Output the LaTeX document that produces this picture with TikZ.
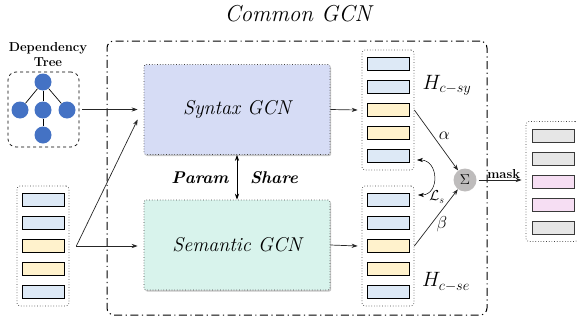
\documentclass[tikz,border=0pt]{standalone}
\usepackage{fontspec}
\usetikzlibrary{arrows.meta,shadows}

\definecolor{synfill}{RGB}{214,220,245}
\definecolor{semfill}{RGB}{216,243,236}
\definecolor{barblue}{RGB}{221,233,246}
\definecolor{baryel}{RGB}{255,242,204}
\definecolor{bargray}{RGB}{230,230,230}
\definecolor{barpink}{RGB}{246,222,243}
\definecolor{treeblue}{RGB}{68,114,196}
\definecolor{sumgray}{RGB}{190,188,188}

\begin{document}
\begin{tikzpicture}[x=1pt,y=-1pt,
	arr/.style={-{Stealth[length=6pt,width=4.2pt]},line width=0.7pt,draw=black!85},
	dblarr/.style={{Stealth[length=6pt,width=4.2pt]}-{Stealth[length=6pt,width=4.2pt]},line width=0.7pt},
	gcnbox/.style={draw=black!75,dotted,line width=0.7pt,rounded corners=2pt,minimum width=186pt,minimum height=90pt,
		drop shadow={opacity=0.45,shadow xshift=1.2pt,shadow yshift=-1.5pt},font=\fontsize{20}{24}\selectfont\itshape},
	vecbox/.style={draw=black!75,dotted,line width=0.7pt,rounded corners=3pt,minimum width=52pt,minimum height=120pt},
	bar/.style={draw=black,line width=0.8pt,minimum width=42pt,minimum height=13pt,inner sep=0pt},
	outbar/.style={bar,draw=gray!45!black},
	treenode/.style={circle,fill=treeblue,minimum size=17pt,inner sep=0pt},
	lbl/.style={font=\fontsize{17}{20}\selectfont},
	hlbl/.style={font=\fontsize{20}{24}\selectfont}
]
	\useasboundingbox (0,0) rectangle (577,324);

	% common frame
	\node[draw=black,line width=1pt,rounded corners=7pt,dash pattern=on 8pt off 3.5pt on 1.2pt off 3.5pt,
		minimum width=380pt,minimum height=274pt] (frame) at (297,178) {};
	\node[font=\fontsize{23}{26}\selectfont\itshape] (title) at (298,14) {Common GCN};

	% dependency tree
	\node[font=\fontsize{13}{15}\selectfont\bfseries,align=center] (deplabel) at (48,55) {Dependency\\Tree};
	\node[draw,dashed,line width=0.7pt,rounded corners=8pt,minimum width=71pt,minimum height=75pt] (tree) at (43.5,109.5) {};
	\node[treenode] (t0) at (43,82) {};
	\node[treenode] (t1) at (20,110) {};
	\node[treenode] (t2) at (43,110) {};
	\node[treenode] (t3) at (67,110) {};
	\node[treenode] (t4) at (43,135) {};
	\draw[line width=0.7pt] (t0) -- (t1);
	\draw[line width=0.7pt] (t0) -- (t2);
	\draw[line width=0.7pt] (t0) -- (t3);
	\draw[line width=0.7pt] (t2) -- (t4);

	% input vectors
	\node[vecbox] (inbox) at (43,246) {};
	\node[bar,fill=barblue] (in1) at (43,200) {};
	\node[bar,fill=barblue] (in2) at (43,223) {};
	\node[bar,fill=baryel] (in3) at (43,246) {};
	\node[bar,fill=baryel] (in4) at (43,269) {};
	\node[bar,fill=barblue] (in5) at (43,292) {};

	% the two GCNs
	\node[gcnbox,fill=synfill] (syn) at (237,109.5) {Syntax GCN};
	\node[gcnbox,fill=semfill] (sem) at (237,245) {Semantic GCN};
	\draw[dblarr] (syn.south) -- (sem.north);
	\node[font=\fontsize{17}{20}\selectfont\bfseries\itshape] (param) at (200,178) {Param};
	\node[font=\fontsize{17}{20}\selectfont\bfseries\itshape] (share) at (274,178) {Share};

	% syntax output
	\node[vecbox] (hsy) at (388,110) {};
	\node[bar,fill=barblue] (sy1) at (388,64) {};
	\node[bar,fill=barblue] (sy2) at (388,87) {};
	\node[bar,fill=baryel] (sy3) at (388,110) {};
	\node[bar,fill=baryel] (sy4) at (388,133) {};
	\node[bar,fill=barblue] (sy5) at (388,156) {};
	\node[hlbl] (hsylab) at (447,85) {$H_{c-sy}$};

	% semantic output
	\node[vecbox] (hse) at (388,246) {};
	\node[bar,fill=barblue] (se1) at (388,200) {};
	\node[bar,fill=barblue] (se2) at (388,223) {};
	\node[bar,fill=baryel] (se3) at (388,246) {};
	\node[bar,fill=baryel] (se4) at (388,269) {};
	\node[bar,fill=barblue] (se5) at (388,292) {};
	\node[hlbl] (hselab) at (446,282) {$H_{c-se}$};

	% sum and mask
	\node[circle,fill=sumgray,minimum size=23pt,inner sep=0pt,font=\fontsize{14}{16}\selectfont] (sum) at (465,180) {$\Sigma$};
	\node[vecbox] (outbox) at (552,181.5) {};
	\node[outbar,fill=bargray] (out1) at (553,135.5) {};
	\node[outbar,fill=bargray] (out2) at (553,158.5) {};
	\node[outbar,fill=barpink] (out3) at (553,181.5) {};
	\node[outbar,fill=barpink] (out4) at (553,204.5) {};
	\node[outbar,fill=bargray] (out5) at (553,227.5) {};

	% connectors
	\draw[arr] ([xshift=3pt]tree.east) -- ([xshift=-6pt]syn.west);
	\draw[arr] ([xshift=7pt]inbox.east) -- ([xshift=-6pt,yshift=-10pt]syn.west);
	\draw[arr] ([xshift=7pt]inbox.east) -- ([xshift=-6pt]sem.west |- inbox.east);
	\draw[arr] (syn.east) -- ([xshift=-4pt]hsy.west);
	\draw[arr] (sem.east) -- ([xshift=-4pt]hse.west);
	\draw[arr] (hsy.east) -- (sum) node[lbl,pos=0.5,xshift=8pt,yshift=4pt] (alab) {$\alpha$};
	\draw[arr] (hse.east) -- (sum) node[lbl,pos=0.45,xshift=8pt,yshift=-4pt] (blab) {$\beta$};
	\coordinate (lsa) at (417,160);
	\coordinate (lsb) at (418,195);
	\draw[dblarr,line width=0.5pt] (lsa) to[out=0,in=0,looseness=1.6] (lsb);
	\node[font=\fontsize{14}{16}\selectfont] (lslab) at (437,197) {$\mathcal{L}_s$};
	\draw[arr,shorten <=2pt] (sum.east) -- ([xshift=-4pt]sum.east -| outbox.west)
		node[pos=0.6,above,font=\fontsize{13}{15}\selectfont\bfseries,inner sep=1.5pt] (masklab) {mask};
\end{tikzpicture}
\end{document}
